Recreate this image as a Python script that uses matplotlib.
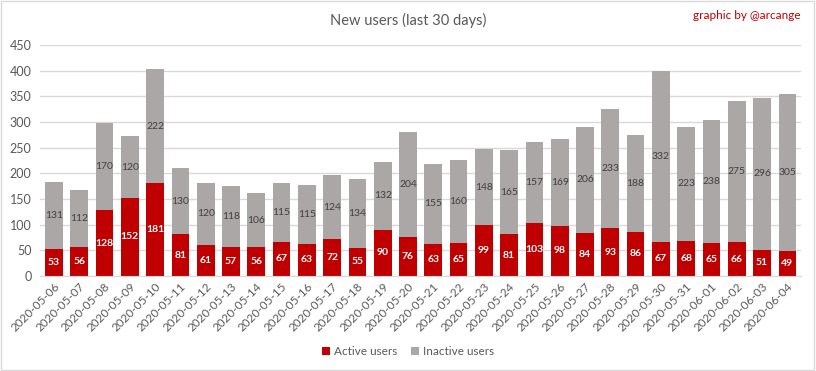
import matplotlib
matplotlib.use("Agg")
import matplotlib.pyplot as plt
import numpy as np

plt.rcParams['font.family'] = ['Lato', 'DejaVu Sans']

dates = ['2020-05-06', '2020-05-07', '2020-05-08', '2020-05-09', '2020-05-10',
         '2020-05-11', '2020-05-12', '2020-05-13', '2020-05-14', '2020-05-15',
         '2020-05-16', '2020-05-17', '2020-05-18', '2020-05-19', '2020-05-20',
         '2020-05-21', '2020-05-22', '2020-05-23', '2020-05-24', '2020-05-25',
         '2020-05-26', '2020-05-27', '2020-05-28', '2020-05-29', '2020-05-30',
         '2020-05-31', '2020-06-01', '2020-06-02', '2020-06-03', '2020-06-04']
active = [53, 56, 128, 152, 181, 81, 61, 57, 56, 67, 63, 72, 55, 90, 76,
          63, 65, 99, 81, 103, 98, 84, 93, 86, 67, 68, 65, 66, 51, 49]
inactive = [131, 112, 170, 120, 222, 130, 120, 118, 106, 115, 115, 124, 134, 132, 204,
            155, 160, 148, 165, 157, 169, 206, 233, 188, 332, 223, 238, 275, 296, 305]

red = '#C00000'
grey = '#ABA7A7'

fig = plt.figure(figsize=(8.16, 3.71), dpi=100)
ax = fig.add_axes([0.049, 0.256, 0.933, 0.623])

x = np.arange(len(dates))
b1 = ax.bar(x, active, width=0.7, color=red, label='Active users', zorder=2)
b2 = ax.bar(x, inactive, width=0.7, bottom=active, color=grey, label='Inactive users', zorder=2)

ax.bar_label(b1, label_type='center', color='white', fontsize=7.5, fontweight='bold')
ax.bar_label(b2, label_type='center', color='#404040', fontsize=7.5)

ax.set_xlim(-0.55, len(dates) - 0.45)
ax.set_ylim(0, 450)
ax.set_yticks(range(0, 451, 50))
ax.yaxis.grid(True, color='#D9D9D9', linewidth=1, zorder=0)
ax.set_axisbelow(True)
for s in ['top', 'right', 'left']:
    ax.spines[s].set_visible(False)
ax.spines['bottom'].set_color('#D9D9D9')
ax.tick_params(axis='y', length=0, labelsize=9, labelcolor='#595959', pad=6)
ax.tick_params(axis='x', length=0, labelsize=8.5, labelcolor='#595959')
ax.set_xticks(x)
ax.set_xticklabels(dates, rotation=45, ha='right', rotation_mode='anchor')

fig.text(0.5, 0.945, 'New users (last 30 days)', ha='center', va='center',
         fontsize=10.5, color='#595959')
fig.text(0.981, 0.958, 'graphic by @arcange', ha='right', va='center',
         fontsize=8.5, color=red)

fig.legend(handles=[b1, b2], loc='center', bbox_to_anchor=(0.5, 0.052), ncol=2,
           frameon=False, fontsize=8.5, handlelength=0.7, handleheight=0.7,
           handletextpad=0.3, columnspacing=1.2, labelcolor='#595959')

fig.patches.append(plt.Rectangle((0.001, 0.002), 0.997, 0.996, transform=fig.transFigure,
                                 fill=False, edgecolor='#D9D9D9', linewidth=1))

fig.savefig('out.png', dpi=100)
